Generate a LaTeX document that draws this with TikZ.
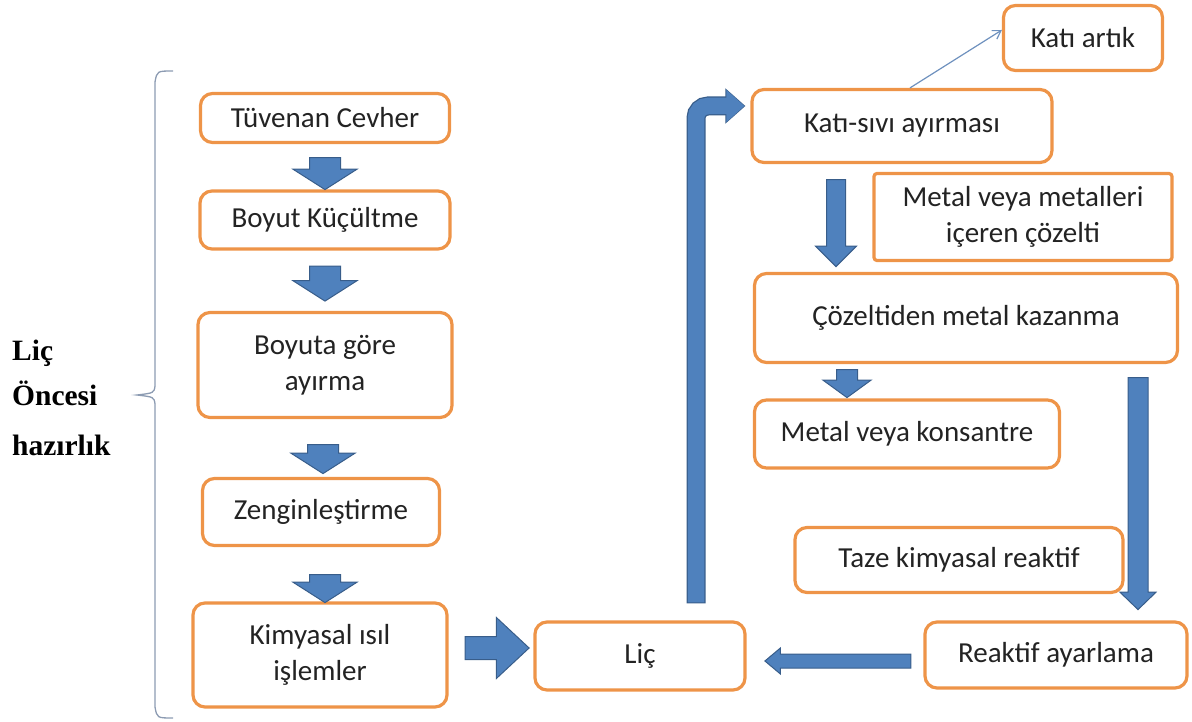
\documentclass[tikz,border=0pt]{standalone}
\usepackage{fontspec}
\setmainfont{Carlito}
\newfontfamily\sideserif{Liberation Serif}
\usetikzlibrary{shapes.arrows, arrows.meta}
\definecolor{boxorange}{RGB}{238,148,72}
\definecolor{arrowblue}{RGB}{79,129,189}
\definecolor{arrowedge}{RGB}{56,93,138}
\definecolor{thinblue}{RGB}{110,145,190}
\definecolor{bracegray}{RGB}{140,155,178}
\definecolor{textdark}{RGB}{35,35,35}
\tikzset{
  stepbox/.style={rectangle, rounded corners=12pt, draw=boxorange, line width=3.2pt, fill=white, text=textdark, align=center, inner sep=2pt, font=\fontsize{29}{36}\selectfont},
  sidelabel/.style={anchor=base west, inner sep=0pt, font=\sideserif\bfseries\fontsize{29.5}{35}\selectfont},
  flowarrow/.style={single arrow, fill=arrowblue, draw=arrowedge, line width=1pt, single arrow head indent=0pt, anchor=tail, inner xsep=0pt},
  downarrow/.style={flowarrow, shape border rotate=270, inner ysep=0pt},
  leftdown/.style={downarrow, inner xsep=15pt, single arrow head extend=16.5pt, single arrow tip angle=115},
  thinarrow/.style={draw=thinblue, line width=1.2pt, -{Straight Barb[length=8pt, width=10pt]}}
}
\begin{document}
\begin{tikzpicture}[x=1pt, y=-1pt]
  \useasboundingbox (0,0) rectangle (1192,722);

  % Sol sütun: liç öncesi hazırlık
  \node (tuv) [stepbox, minimum width=249pt, minimum height=49pt] at (325,118) {Tüvenan Cevher};
  \node (boy) [stepbox, minimum width=250pt, minimum height=58pt] at (325,220) {Boyut Küçültme};
  \node (boya) [stepbox, minimum width=254pt, minimum height=105pt] at (325,365) {Boyuta göre\\ayırma};
  \node (zen) [stepbox, minimum width=237pt, minimum height=67pt] at (321,512) {Zenginleştirme};
  \node (kim) [stepbox, minimum width=254pt, minimum height=104pt] at (320,655) {Kimyasal ısıl\\işlemler};

  % Liç ve sonrası
  \node (lic) [stepbox, minimum width=210pt, minimum height=68pt] at (640,656) {Liç};
  \node (kss) [stepbox, minimum width=300pt, minimum height=73pt] at (902,126) {Katı-sıvı ayırması};
  \node (kat) [stepbox, minimum width=159pt, minimum height=65pt] at (1083,38) {Katı artık};
  \node (mvm) [stepbox, rounded corners=3pt, minimum width=298pt, minimum height=87pt] at (1023,217) {Metal veya metalleri\\içeren çözelti};
  \node (coz) [stepbox, minimum width=423pt, minimum height=89pt] at (966,318) {Çözeltiden metal kazanma};
  \node (mvk) [stepbox, minimum width=305pt, minimum height=68pt] at (907,434) {Metal veya konsantre};
  \node (tay) [stepbox, minimum width=328pt, minimum height=65pt] at (959,560) {Taze kimyasal reaktif};
  \node (rea) [stepbox, minimum width=262pt, minimum height=66pt] at (1056,655) {Reaktif ayarlama};

  % Sol yazı ve parantez
  \node (sl1) [sidelabel] at (12,360) {Liç};
  \node (sl2) [sidelabel] at (12,405) {Öncesi};
  \node (sl3) [sidelabel] at (12,455) {hazırlık};
  \draw [bracegray, line width=1.3pt] (173,71) .. controls (157,71) .. (155,82) -- (155,386)
    .. controls (154,393) .. (137,395) .. controls (154,397) .. (155,404) -- (155,707)
    .. controls (157,718) .. (173,718);

  % Blok oklar
  \node (a1) [leftdown, minimum height=32pt] at ([yshift=-13pt]tuv.south) {};
  \node (a2) [leftdown, minimum height=35pt] at ([yshift=-15pt]boy.south) {};
  \node (a3) [leftdown, minimum height=29pt] at ([xshift=-2pt,yshift=-25pt]boya.south) {};
  \node (a4) [leftdown, minimum height=28pt] at ([xshift=4pt,yshift=-27pt]zen.south) {};
  \node (a5) [flowarrow, inner ysep=11pt, minimum height=64pt, single arrow head extend=19pt, single arrow tip angle=86] at ([xshift=16pt,yshift=7pt]kim.east) {};
  \node (a6) [downarrow, inner xsep=9pt, minimum height=87pt, single arrow head extend=11pt, single arrow tip angle=90] at ([xshift=-66pt,yshift=-15pt]kss.south) {};
  \node (a7) [downarrow, inner xsep=10pt, minimum height=28pt, single arrow head extend=13.5pt, single arrow tip angle=108] at ([xshift=-119pt,yshift=-5pt]coz.south) {};
  \node (a8) [downarrow, inner xsep=9.5pt, minimum height=232pt, single arrow head extend=8pt, single arrow tip angle=92] at ([xshift=172pt,yshift=-13pt]coz.south) {};
  \node (a9) [flowarrow, shape border rotate=180, inner ysep=6.5pt, minimum height=146pt, single arrow head extend=6pt, single arrow tip angle=80] at ([xshift=-12pt,yshift=-6pt]rea.west) {};

  % Liç'ten katı-sıvı ayırmasına dönen ok
  \draw [line width=19pt, draw=arrowedge, rounded corners=12pt, -{Triangle[length=20pt, width=34pt]}]
    ([xshift=56pt,yshift=17pt]lic.north) |- ([xshift=-5pt,yshift=20pt]kss.west);
  \draw [line width=16.5pt, draw=arrowblue, rounded corners=12pt, shorten <=1pt, shorten >=1pt, -{Triangle[length=18pt, width=31pt]}]
    ([xshift=56pt,yshift=17pt]lic.north) |- ([xshift=-5pt,yshift=20pt]kss.west);

  % İnce ok
  \draw [thinarrow] ([xshift=8pt]kss.north) -- ([yshift=8pt]kat.west);
\end{tikzpicture}
\end{document}
